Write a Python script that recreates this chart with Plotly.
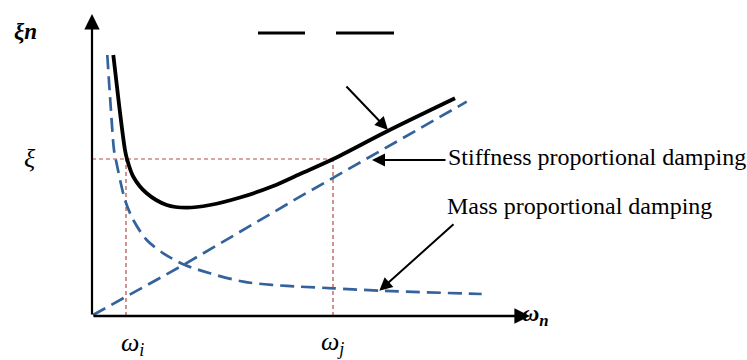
import plotly.graph_objects as go

# ---- data (units: px offset from axis origin) ----
total_x = [21.3, 27.3, 33.0, 35.0, 41.3, 54.7, 74.7, 94.7, 118.0, 148.0, 181.3, 208.0, 241.3, 294.7, 363.0]
total_y = [261.0, 209.3, 166.0, 157.0, 139.3, 122.7, 111.0, 108.3, 111.0, 118.5, 130.0, 142.0, 157.0, 184.5, 217.7]

mass_x = [15.3, 18.7, 22.0, 23.7, 33.0, 41.3, 54.7, 71.3, 93.0, 118.0, 151.3, 181.3, 208.0, 241.3, 287.3, 389.7]
mass_y = [261.0, 209.3, 166.0, 157.0, 116.0, 96.0, 76.0, 62.7, 51.0, 42.7, 34.3, 31.0, 29.3, 27.7, 25.3, 22.0]

stiff_x = [1.0, 91.3, 208.0, 374.7]
stiff_y = [1.0, 51.0, 119.3, 214.3]

omega_i = 34.0
omega_j = 241.0
xi_level = 157.0

label_stiff = "Stiffness proportional damping"
label_mass = "Mass proportional damping"

BLUE = "#34639c"
RED = "#b54a4a"
FONT = "Liberation Serif, Times New Roman, serif"

fig = go.Figure()

# reference dotted lines
for xs, ys in (([0, omega_j], [xi_level, xi_level]),
               ([omega_i, omega_i], [0, xi_level]),
               ([omega_j, omega_j], [0, xi_level])):
    fig.add_trace(go.Scatter(x=xs, y=ys, mode="lines",
                             line=dict(color=RED, width=1.2, dash="4px,3px"), hoverinfo="skip"))

# curves
fig.add_trace(go.Scatter(x=stiff_x, y=stiff_y, mode="lines",
                         line=dict(color=BLUE, width=2.7, dash="14px,7px")))
fig.add_trace(go.Scatter(x=mass_x, y=mass_y, mode="lines", line_shape="spline",
                         line=dict(color=BLUE, width=2.7, dash="14px,7px", smoothing=0.8)))
fig.add_trace(go.Scatter(x=total_x, y=total_y, mode="lines", line_shape="spline",
                         line=dict(color="black", width=3.8, smoothing=0.9)))

anns = []
def arrow(x, y, ax, ay, size=1.3, width=2.0):
    anns.append(dict(x=x, y=y, ax=ax, ay=ay, xref="x", yref="y", axref="x", ayref="y",
                     showarrow=True, arrowhead=2, arrowsize=size, arrowwidth=width,
                     arrowcolor="black", text=""))

# axes with arrows
arrow(0, 302, 0, 0, 1.4, 2.2)
arrow(438, 0, 0, 0, 1.2, 2.6)
# pointer arrows
arrow(296, 186, 253, 231)
arrow(280, 156, 355, 156)
arrow(287.3, 25.3, 363, 93)

# texts
def txt(x, y, s, size, xanchor="center"):
    anns.append(dict(x=x, y=y, xref="x", yref="y", text=s, showarrow=False,
                     xanchor=xanchor, yanchor="middle",
                     font=dict(family=FONT, size=size, color="black")))

txt(354, 159, label_stiff, 24, "left")
txt(353, 110, label_mass, 24, "left")
txt(-67, 285, "<b><i>ξn</i></b>", 23)
txt(-62, 158, "<i>ξ</i>", 26)
txt(omega_i + 6, -28, "<i>ω<sub>i</sub></i>", 26)
txt(omega_j - 1, -27, "<i>ω<sub>j</sub></i>", 26)
txt(443, 1, "<b><i>ω<sub>n</sub></i></b>", 24)

# short black dashes at the top
shapes = [
    dict(type="line", xref="x", yref="y", x0=166, x1=213, y0=283, y1=283, line=dict(color="black", width=3)),
    dict(type="line", xref="x", yref="y", x0=244, x1=302, y0=283, y1=283, line=dict(color="black", width=3)),
]

fig.update_layout(
    width=747, height=360, autosize=False,
    margin=dict(l=0, r=0, t=0, b=0),
    paper_bgcolor="white", plot_bgcolor="white",
    showlegend=False,
    xaxis=dict(range=[-92, 655], visible=False, fixedrange=True),
    yaxis=dict(range=[-44, 316], visible=False, fixedrange=True),
    annotations=anns, shapes=shapes,
)

fig.write_html("out.html")
